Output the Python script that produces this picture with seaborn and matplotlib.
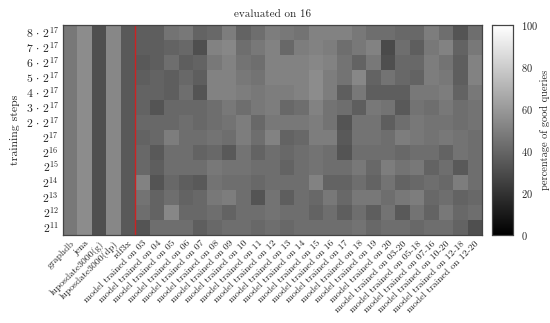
import numpy as np
import pandas as pd
import matplotlib
matplotlib.use("Agg")
import matplotlib.pyplot as plt
import seaborn as sns

sns.set_style("white")
plt.rcParams['font.family'] = 'serif'
plt.rcParams['font.serif'] = ['cmr10', 'DejaVu Serif']
plt.rcParams['mathtext.fontset'] = 'cm'
plt.rcParams['axes.formatter.use_mathtext'] = True

# %% data
step_labels = [r"$8\,\cdot\,2^{17}$", r"$7\,\cdot\,2^{17}$", r"$6\,\cdot\,2^{17}$", r"$5\,\cdot\,2^{17}$",
               r"$4\,\cdot\,2^{17}$", r"$3\,\cdot\,2^{17}$", r"$2\,\cdot\,2^{17}$", r"$2^{17}$",
               r"$2^{16}$", r"$2^{15}$", r"$2^{14}$", r"$2^{13}$", r"$2^{12}$", r"$2^{11}$"]

baseline_names = ["graphdb", "jena", "luposdate3000(g)", "luposdate3000(dp)", "rdf3x"]
baseline_scores = [47, 55, 31, 53, 35]

model_sets = ["03", "04", "05", "06", "07", "08", "09", "10", "11", "12", "13", "14",
              "15", "16", "17", "18", "19", "20", "03-20", "05-18", "07-16", "10-20",
              "12-18", "12-20"]

# percentage of good queries, one row per training step (top to bottom)
model_scores = [
    [37, 37, 45, 47, 39, 41, 49, 39, 43, 49, 47, 45, 51, 51, 51, 47, 43, 43, 41, 41, 49, 43, 33, 43],
    [37, 37, 39, 41, 31, 51, 53, 43, 47, 51, 41, 49, 51, 49, 43, 47, 51, 29, 43, 37, 47, 51, 39, 47],
    [35, 37, 43, 37, 39, 47, 51, 45, 43, 51, 51, 51, 53, 51, 45, 39, 47, 31, 41, 41, 49, 45, 37, 51],
    [37, 39, 37, 41, 37, 51, 51, 47, 45, 51, 51, 51, 55, 49, 45, 53, 39, 45, 41, 39, 49, 47, 37, 51],
    [39, 39, 37, 43, 33, 51, 51, 49, 47, 49, 49, 51, 55, 49, 37, 47, 37, 37, 37, 47, 47, 49, 39, 47],
    [39, 33, 41, 41, 41, 43, 47, 43, 47, 49, 41, 43, 51, 45, 43, 37, 47, 45, 35, 45, 43, 47, 43, 45],
    [41, 41, 41, 43, 41, 43, 45, 49, 41, 47, 47, 47, 49, 45, 33, 45, 45, 37, 43, 47, 45, 45, 43, 45],
    [39, 41, 49, 43, 43, 45, 43, 49, 43, 51, 39, 41, 49, 49, 35, 45, 45, 43, 49, 47, 45, 47, 45, 43],
    [41, 35, 43, 43, 39, 41, 35, 45, 39, 43, 41, 43, 45, 43, 33, 43, 43, 43, 41, 43, 43, 39, 45, 43],
    [41, 37, 43, 43, 43, 47, 45, 45, 43, 43, 39, 43, 45, 43, 43, 47, 41, 49, 45, 47, 39, 43, 35, 43],
    [51, 33, 41, 37, 35, 45, 43, 43, 41, 43, 43, 43, 51, 39, 39, 43, 39, 45, 39, 41, 43, 41, 49, 43],
    [45, 39, 43, 39, 41, 47, 49, 43, 33, 45, 37, 43, 41, 47, 41, 47, 47, 43, 47, 49, 41, 43, 39, 41],
    [43, 39, 53, 41, 41, 43, 39, 43, 43, 45, 43, 43, 39, 43, 37, 43, 37, 45, 35, 45, 39, 47, 41, 43],
    [33, 43, 43, 43, 37, 41, 43, 43, 41, 43, 41, 43, 43, 43, 43, 45, 41, 43, 43, 41, 43, 43, 39, 31],
]

# %% build table
columns = baseline_names + ["model trained on " + s for s in model_sets]
rows = [baseline_scores + r for r in model_scores]
df = pd.DataFrame(rows, index=step_labels, columns=columns)

# %% plot
fig = plt.figure(figsize=(5.5, 3.23), dpi=100)
ax = fig.add_axes([0.1145, 0.2724, 0.7618, 0.6502])
cax = fig.add_axes([0.8945, 0.2724, 0.0382, 0.6502])

sns.heatmap(df, cmap="gray", vmin=0, vmax=100, ax=ax, cbar_ax=cax,
            xticklabels=True, yticklabels=True)

ax.axvline(len(baseline_names), color="#cc2222", linewidth=1.0)
for s in ax.spines.values():
    s.set_visible(True)
    s.set_color("#444444")
    s.set_linewidth(0.9)

ax.set_title("evaluated on 16", fontsize=8, pad=6)
ax.set_ylabel("training steps", fontsize=8.5, labelpad=4)
ax.set_xlabel("")
ax.tick_params(axis="both", length=0, pad=3)
ax.set_xticklabels(ax.get_xticklabels(), rotation=45, ha="right",
                   rotation_mode="anchor", fontsize=7)
ax.set_yticklabels(ax.get_yticklabels(), rotation=0, fontsize=8.5)

cax.set_yticks([0, 20, 40, 60, 80, 100])
cax.tick_params(axis="y", direction="in", left=True, right=True, length=3,
                color="#555555", labelsize=7.5, pad=6)
cax.set_ylabel("percentage of good queries", fontsize=7.5, labelpad=1)
for s in cax.spines.values():
    s.set_visible(True)
    s.set_color("#444444")
    s.set_linewidth(0.8)

fig.savefig("out.png", dpi=100)
